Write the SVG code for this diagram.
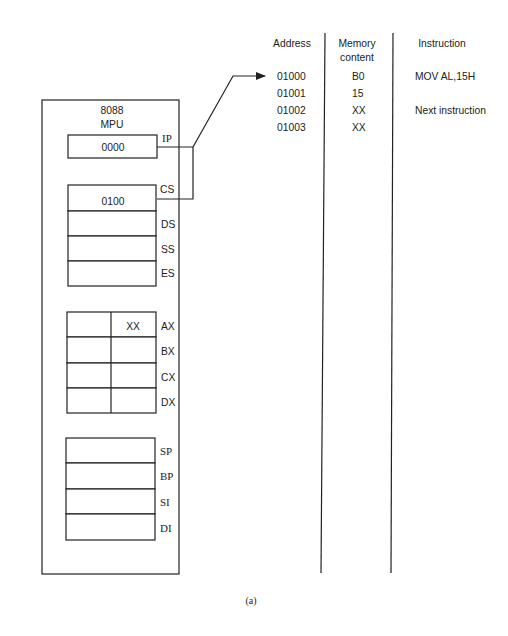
<svg xmlns="http://www.w3.org/2000/svg" width="508" height="636" viewBox="0 0 508 636">
<style>
.box{fill:none;stroke:#222;stroke-width:1.2}
.reg{fill:#fff;stroke:#222;stroke-width:1.2}
.t{font-family:"Liberation Sans",Arial,sans-serif;font-size:10.3px;fill:#222}
.s{font-family:"Liberation Serif","Times New Roman",serif;font-size:11px;fill:#222}
.c{text-anchor:middle}
.ln{fill:none;stroke:#222;stroke-width:1.2}
</style>
<defs>
<marker id="ah" markerWidth="10" markerHeight="8" refX="9" refY="4" orient="auto" markerUnits="userSpaceOnUse">
<path d="M0,0 L10,4 L0,8 Z" fill="#222"/>
</marker>
</defs>
<rect width="508" height="636" fill="#fff"/>
<g id="mpu">
<rect class="box" x="42" y="100" width="137" height="474"/>
<text class="t c" x="112" y="114">8088</text>
<text class="t c" x="112" y="128">MPU</text>
</g>
<g id="ip">
<rect class="reg" x="68" y="135" width="89" height="23"/>
<text class="t c" x="113" y="151">0000</text>
<text class="s" x="162" y="142">IP</text>
</g>
<g id="segs">
<rect class="reg" x="68" y="185" width="88" height="26"/>
<rect class="reg" x="68" y="211" width="88" height="25"/>
<rect class="reg" x="68" y="236" width="88" height="25"/>
<rect class="reg" x="68" y="261" width="88" height="25"/>
<text class="t c" x="113" y="205">0100</text>
<text class="t" x="160" y="193">CS</text>
<text class="t" x="161" y="228">DS</text>
<text class="t" x="161" y="253">SS</text>
<text class="t" x="161" y="277">ES</text>
</g>
<g id="gpr">
<rect class="reg" x="67" y="312" width="89" height="25"/>
<rect class="reg" x="67" y="337" width="89" height="26"/>
<rect class="reg" x="67" y="363" width="89" height="25"/>
<rect class="reg" x="67" y="388" width="89" height="25"/>
<line class="ln" x1="111" y1="312" x2="111" y2="413"/>
<text class="t c" x="133" y="330">XX</text>
<text class="t" x="161" y="330">AX</text>
<text class="t" x="161" y="355">BX</text>
<text class="t" x="161" y="381">CX</text>
<text class="t" x="161" y="406">DX</text>
</g>
<g id="ptr">
<rect class="reg" x="66" y="438" width="89" height="25"/>
<rect class="reg" x="66" y="463" width="89" height="26"/>
<rect class="reg" x="66" y="489" width="89" height="25"/>
<rect class="reg" x="66" y="514" width="89" height="26"/>
<text class="s" x="160" y="455">SP</text>
<text class="s" x="160" y="480">BP</text>
<text class="s" x="160" y="506">SI</text>
<text class="s" x="160" y="532">DI</text>
</g>
<g id="connectors">
<polyline class="ln" points="157,147 193,147 193,199 157,199"/>
<polyline class="ln" points="193,147 233,76 265,76" marker-end="url(#ah)"/>
</g>
<g id="table">
<line class="ln" x1="325" y1="33" x2="321" y2="573"/>
<line class="ln" x1="393" y1="33" x2="391" y2="573"/>
<text class="t c" x="292" y="47">Address</text>
<text class="t c" x="357" y="47">Memory</text>
<text class="t c" x="357" y="61">content</text>
<text class="t c" x="442" y="47">Instruction</text>
<text class="t" x="277" y="80">01000</text>
<text class="t" x="277" y="97">01001</text>
<text class="t" x="277" y="114">01002</text>
<text class="t" x="277" y="131">01003</text>
<text class="t" x="352" y="80">B0</text>
<text class="t" x="352" y="97">15</text>
<text class="t" x="352" y="114">XX</text>
<text class="t" x="352" y="131">XX</text>
<text class="t" x="415" y="80">MOV AL,15H</text>
<text class="t" x="415" y="114">Next instruction</text>
</g>
<text class="s c" x="251" y="604" style="font-size:10px">(a)</text>
</svg>
